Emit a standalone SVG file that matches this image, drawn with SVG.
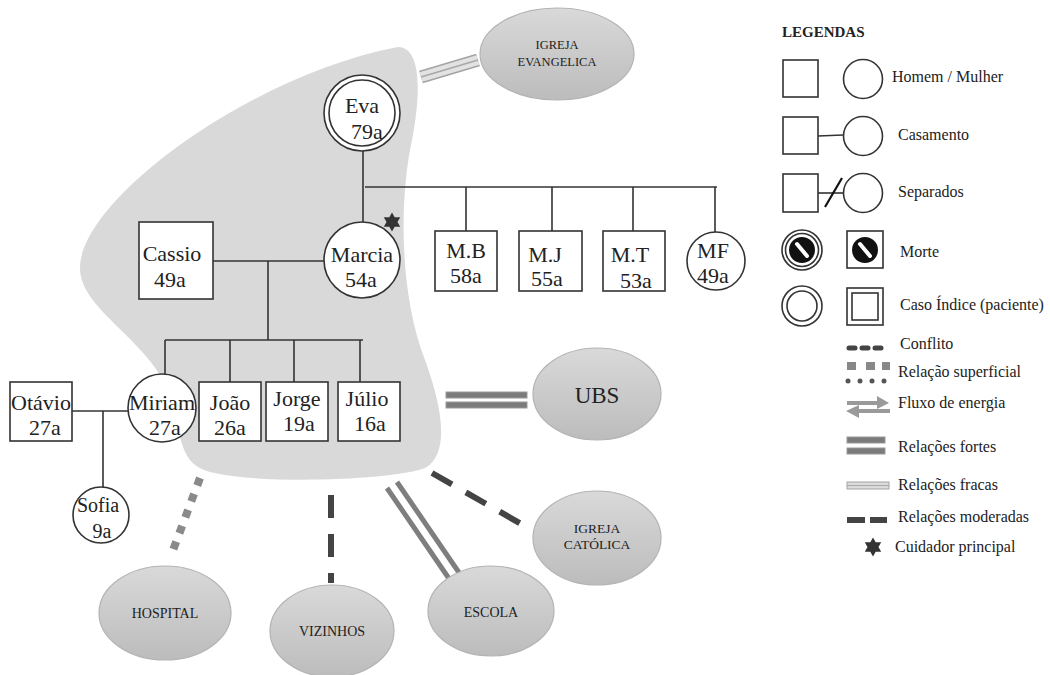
<svg xmlns="http://www.w3.org/2000/svg" width="1050" height="675" viewBox="0 0 1050 675">
<defs>
<linearGradient id="eg" x1="0" y1="0" x2="0" y2="1">
<stop offset="0" stop-color="#d9d9d9"/>
<stop offset="1" stop-color="#bcbcbc"/>
</linearGradient>
<polygon id="star" points="0,-9.5 2.7,-4.75 8.2,-4.75 5.5,0 8.2,4.75 2.7,4.75 0,9.5 -2.7,4.75 -8.2,4.75 -5.5,0 -8.2,-4.75 -2.7,-4.75"/>
</defs>
<style>
.ln{stroke:#333;stroke-width:1.6;fill:none}
.nd{fill:#fff;stroke:#333;stroke-width:1.6}
.t{font-family:"Liberation Serif","Times New Roman",serif;font-size:22px;fill:#222;text-anchor:middle}
.e{fill:url(#eg);stroke:#b3b3b3;stroke-width:1.2}
.et{font-family:"Liberation Serif","Times New Roman",serif;font-size:14px;fill:#222;text-anchor:middle}
.lg{font-family:"Liberation Serif","Times New Roman",serif;font-size:16px;fill:#222}
.mod{stroke:#444;stroke-width:6;stroke-dasharray:23 16;fill:none}
.strong{stroke:#7e7e7e;stroke-width:5;fill:none}
</style>
<rect width="1050" height="675" fill="#fff"/>
<path id="blob" d="M398,47 C420,47 422,88 412,140 C400,195 398,290 425,360 C445,415 448,455 425,468 C395,480 260,485 210,472 C180,464 182,440 170,395 C150,340 80,310 80,268 C80,200 250,75 398,47 Z" fill="#d9d9d9"/>
<g id="relations">
<line x1="421" y1="77" x2="478" y2="60" stroke="#a3a3a3" stroke-width="13"/>
<line x1="421" y1="77" x2="478" y2="60" stroke="#e2e2e2" stroke-width="10"/>
<line x1="421" y1="77" x2="478" y2="60" stroke="#a8a8a8" stroke-width="1.5"/>
<rect x="446" y="392" width="81" height="6" fill="#7b7b7b" stroke="#9a9a9a" stroke-width="1"/>
<rect x="446" y="402" width="81" height="6" fill="#7b7b7b" stroke="#9a9a9a" stroke-width="1"/>
<line class="strong" x1="387" y1="488" x2="452" y2="583"/>
<line class="strong" x1="397" y1="482" x2="462" y2="577"/>
<line class="mod" x1="432" y1="473" x2="523" y2="525"/>
<line class="mod" x1="331" y1="495" x2="331" y2="583"/>
<line x1="200" y1="478" x2="172" y2="553" stroke="#8a8a8a" stroke-width="8" stroke-dasharray="8 9"/>
</g>
<g id="igreja-evangelica"><ellipse class="e" cx="557" cy="54" rx="77" ry="46"/><text class="et" style="font-size:12.5px" x="557" y="49">IGREJA</text><text class="et" style="font-size:12.5px" x="557" y="66">EVANGELICA</text></g>
<g id="ubs"><ellipse class="e" cx="597" cy="394" rx="64" ry="46"/><text class="et" style="font-size:23px" x="597" y="403">UBS</text></g>
<g id="igreja-catolica"><ellipse class="e" cx="597" cy="538" rx="64" ry="47"/><text class="et" style="font-size:13.5px" x="597" y="533">IGREJA</text><text class="et" style="font-size:13.5px" x="597" y="549">CATÓLICA</text></g>
<g id="escola"><ellipse class="e" cx="491" cy="611" rx="63" ry="45"/><text class="et" x="491" y="617">ESCOLA</text></g>
<g id="hospital"><ellipse class="e" cx="165" cy="613" rx="66" ry="47"/><text class="et" x="165" y="618">HOSPITAL</text></g>
<g id="vizinhos"><ellipse class="e" cx="332" cy="631" rx="62" ry="46"/><text class="et" x="332" y="636">VIZINHOS</text></g>
<g id="connectors">
<line class="ln" x1="363" y1="151" x2="363" y2="222"/>
<line class="ln" x1="365" y1="187" x2="717" y2="187"/>
<line class="ln" x1="466" y1="187" x2="466" y2="231"/>
<line class="ln" x1="552" y1="187" x2="552" y2="231"/>
<line class="ln" x1="633" y1="187" x2="633" y2="231"/>
<line class="ln" x1="715" y1="187" x2="715" y2="232"/>
<line class="ln" x1="213" y1="261" x2="325" y2="261"/>
<line class="ln" x1="268" y1="261" x2="268" y2="340"/>
<line class="ln" x1="165" y1="340" x2="363" y2="340"/>
<line class="ln" x1="165" y1="340" x2="165" y2="375"/>
<line class="ln" x1="230" y1="340" x2="230" y2="382"/>
<line class="ln" x1="294" y1="340" x2="294" y2="382"/>
<line class="ln" x1="360" y1="340" x2="360" y2="382"/>
<line class="ln" x1="72" y1="411" x2="128" y2="411"/>
<line class="ln" x1="103" y1="411" x2="103" y2="487"/>
</g>
<g id="eva"><circle class="nd" cx="362" cy="113" r="38"/><circle class="nd" cx="362" cy="113" r="33"/><text class="t" x="362" y="113">Eva</text><text class="t" x="367" y="139">79a</text></g>
<g id="marcia"><circle class="nd" cx="362" cy="260" r="38"/><text class="t" x="362" y="262">Marcia</text><text class="t" x="361" y="287">54a</text><use href="#star" x="392" y="222" fill="#333"/></g>
<g id="cassio"><rect class="nd" x="139" y="222" width="74" height="77"/><text class="t" x="172" y="261">Cassio</text><text class="t" x="170" y="287">49a</text></g>
<g id="mb"><rect class="nd" x="435" y="231" width="62" height="60"/><text class="t" x="466" y="258">M.B</text><text class="t" x="466" y="283">58a</text></g>
<g id="mj"><rect class="nd" x="519" y="231" width="63" height="60"/><text class="t" x="545" y="262">M.J</text><text class="t" x="547" y="286">55a</text></g>
<g id="mt"><rect class="nd" x="603" y="231" width="62" height="60"/><text class="t" x="630" y="262">M.T</text><text class="t" x="636" y="288">53a</text></g>
<g id="mf"><circle class="nd" cx="716" cy="261" r="29"/><text class="t" x="713" y="258">MF</text><text class="t" x="713" y="283">49a</text></g>
<g id="otavio"><rect class="nd" x="10" y="382" width="62" height="59"/><text class="t" x="41" y="410">Otávio</text><text class="t" x="45" y="435">27a</text></g>
<g id="miriam"><circle class="nd" cx="162" cy="408" r="34"/><text class="t" x="162" y="410">Miriam</text><text class="t" x="165" y="435">27a</text></g>
<g id="joao"><rect class="nd" x="199" y="382" width="62" height="59"/><text class="t" x="230" y="410">João</text><text class="t" x="230" y="435">26a</text></g>
<g id="jorge"><rect class="nd" x="266" y="382" width="62" height="59"/><text class="t" x="297" y="406">Jorge</text><text class="t" x="299" y="431">19a</text></g>
<g id="julio"><rect class="nd" x="338" y="382" width="62" height="59"/><text class="t" x="367" y="406">Júlio</text><text class="t" x="370" y="431">16a</text></g>
<g id="sofia"><circle class="nd" cx="101" cy="515" r="28"/><text class="t" style="font-size:20px" x="98" y="512">Sofia</text><text class="t" style="font-size:20px" x="102" y="538">9a</text></g>
<g id="legend">
<text class="lg" style="font-weight:bold;font-size:15px" x="782" y="37">LEGENDAS</text>
<rect class="nd" x="783" y="60" width="35" height="37"/><circle class="nd" cx="863" cy="79" r="19.5"/>
<text class="lg" x="892" y="82">Homem / Mulher</text>
<rect class="nd" x="783" y="117" width="35" height="37"/><circle class="nd" cx="863" cy="136" r="19.5"/>
<line class="ln" x1="818" y1="136" x2="843" y2="135"/>
<text class="lg" x="898" y="140">Casamento</text>
<rect class="nd" x="783" y="174" width="35" height="38"/><circle class="nd" cx="863" cy="193" r="19.5"/>
<line class="ln" x1="818" y1="193" x2="843" y2="193"/>
<line x1="825" y1="207" x2="842" y2="178" stroke="#111" stroke-width="2.2"/>
<text class="lg" x="898" y="197">Separados</text>
<circle class="nd" cx="802" cy="250" r="20"/><circle class="nd" cx="802" cy="250" r="16.5"/>
<circle cx="802" cy="250" r="13" fill="#111"/><line x1="797" y1="244" x2="807" y2="256" stroke="#fff" stroke-width="4" stroke-linecap="round"/>
<rect class="nd" x="847" y="231" width="36" height="37"/>
<circle cx="865" cy="250" r="13" fill="#111"/><line x1="860" y1="244" x2="870" y2="256" stroke="#fff" stroke-width="4" stroke-linecap="round"/>
<text class="lg" x="900" y="257">Morte</text>
<circle class="nd" cx="802" cy="306" r="20"/><circle class="nd" cx="802" cy="306" r="15"/>
<rect class="nd" x="847" y="288" width="36" height="37"/><rect class="nd" x="852" y="293" width="26" height="27"/>
<text class="lg" x="900" y="310">Caso Índice (paciente)</text>
<g stroke="#444" stroke-width="5" stroke-linecap="round"><line x1="849" y1="348" x2="855" y2="348"/><line x1="862" y1="348" x2="868" y2="348"/><line x1="875" y1="348" x2="881" y2="348"/></g>
<text class="lg" x="900" y="349">Conflito</text>
<g fill="#888"><rect x="847" y="362" width="9" height="8"/><rect x="866" y="362" width="9" height="8"/><rect x="882" y="362" width="8" height="8"/></g>
<g fill="#555"><circle cx="848" cy="381" r="2.5"/><circle cx="860" cy="381" r="2.5"/><circle cx="872" cy="381" r="2.5"/><circle cx="884" cy="381" r="2.5"/></g>
<text class="lg" x="898" y="377">Relação superficial</text>
<g fill="#9a9a9a"><rect x="847" y="401" width="32" height="4"/><polygon points="877,396 889,403 877,409"/><rect x="858" y="409" width="32" height="4"/><polygon points="859,405 846,411 859,418"/></g>
<text class="lg" x="898" y="408">Fluxo de energia</text>
<rect x="847" y="437" width="38" height="6" fill="#7b7b7b" stroke="#9a9a9a" stroke-width="1"/>
<rect x="847" y="448" width="38" height="6" fill="#7b7b7b" stroke="#9a9a9a" stroke-width="1"/>
<text class="lg" x="898" y="452">Relações fortes</text>
<rect x="847" y="482" width="42" height="7" fill="#dcdcdc" stroke="#a3a3a3" stroke-width="1"/>
<line x1="847" y1="485.5" x2="889" y2="485.5" stroke="#a8a8a8" stroke-width="1"/>
<text class="lg" x="898" y="490">Relações fracas</text>
<g stroke="#444" stroke-width="6"><line x1="847" y1="520" x2="865" y2="520"/><line x1="870" y1="520" x2="887" y2="520"/></g>
<text class="lg" x="898" y="522">Relações moderadas</text>
<use href="#star" x="873" y="547" fill="#333"/>
<text class="lg" x="895" y="552">Cuidador principal</text>
</g>
</svg>
